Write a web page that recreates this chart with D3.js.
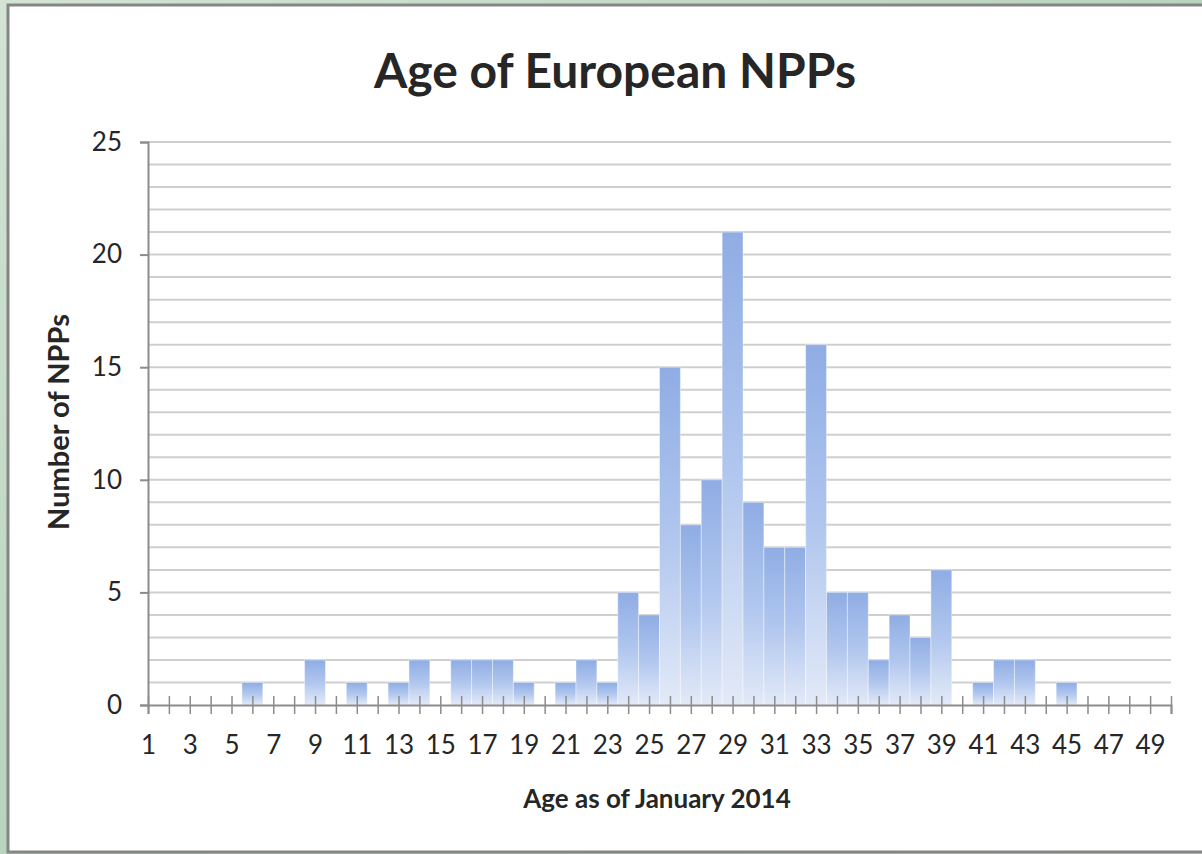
<!DOCTYPE html>
<html>
<head>
<meta charset="utf-8">
<script src="https://cdn.jsdelivr.net/npm/d3@7"></script>
<style>
  body { margin: 0; background: #c9ddcc; }
  svg { display: block; }
  text { font-family: Lato, "Open Sans", sans-serif; fill: #262626; }
</style>
</head>
<body>
<svg id="chart" width="1202" height="854"></svg>
<script>
// ages (years, as of Jan 2014) and number of plants of that age
const ages = [1, 2, 3, 4, 5, 6, 7, 8, 9, 10, 11, 12, 13, 14, 15, 16, 17, 18, 19, 20,
    21, 22, 23, 24, 25, 26, 27, 28, 29, 30, 31, 32, 33, 34, 35, 36, 37, 38, 39, 40,
    41, 42, 43, 44, 45, 46, 47, 48, 49];
const counts = [0, 0, 0, 0, 0, 1, 0, 0, 2, 0, 1, 0, 1, 2, 0, 2, 2, 2, 1, 0,
    1, 2, 1, 5, 4, 15, 8, 10, 21, 9, 7, 7, 16, 5, 5, 2, 4, 3, 6, 0,
    1, 2, 2, 0, 1, 0, 0, 0, 0];
const xTickLabels = [1, 3, 5, 7, 9, 11, 13, 15, 17, 19, 21, 23, 25, 27, 29, 31, 33,
    35, 37, 39, 41, 43, 45, 47, 49];
const yTickLabels = [0, 5, 10, 15, 20, 25];

const title = "Age of European NPPs";
const xTitle = "Age as of January 2014";
const yTitle = "Number of NPPs";

const data = ages.map((a, i) => ({ age: a, count: counts[i] }));

const svg = d3.select("#chart"),
    width = +svg.attr("width"),
    height = +svg.attr("height");

// green backdrop + white slide panel
const defs = svg.append("defs");
const bg = defs.append("linearGradient").attr("id", "bg")
    .attr("x1", 0).attr("y1", 0).attr("x2", 1).attr("y2", 1);
bg.append("stop").attr("offset", "0%").attr("stop-color", "#d3e4d5");
bg.append("stop").attr("offset", "50%").attr("stop-color", "#b9d3bd");
bg.append("stop").attr("offset", "100%").attr("stop-color", "#cfe1d1");
svg.append("rect").attr("width", width).attr("height", height).attr("fill", "url(#bg)");

svg.append("rect")
    .attr("x", 8).attr("y", 5)
    .attr("width", width + 10).attr("height", 847)
    .attr("fill", "#fff")
    .attr("stroke", "#858585")
    .attr("stroke-width", 3);

// per-bar gradient: blue on top fading to pale at the base
const barGrad = defs.append("linearGradient").attr("id", "barGrad")
    .attr("x1", 0).attr("y1", 0).attr("x2", 0).attr("y2", 1);
barGrad.append("stop").attr("offset", "0%").attr("stop-color", "#8fade4");
barGrad.append("stop").attr("offset", "50%").attr("stop-color", "#b0c6ee");
barGrad.append("stop").attr("offset", "100%").attr("stop-color", "#e3eaf8");

const x = d3.scaleLinear().domain([1, 50]).range([148, 1171]);
const y = d3.scaleLinear().domain([0, 25]).range([705, 142]);
const step = x(2) - x(1);

// minor gridlines every unit
svg.append("g")
    .selectAll("line")
    .data(d3.range(1, 26))
    .enter().append("line")
    .attr("x1", x(1)).attr("x2", x(50))
    .attr("y1", d => y(d)).attr("y2", d => y(d))
    .attr("stroke", "#cfcfcf")
    .attr("stroke-width", 2);

// bars
svg.append("g")
    .selectAll("rect")
    .data(data.filter(d => d.count > 0))
    .enter().append("rect")
    .attr("x", d => x(d.age) - step / 2)
    .attr("width", step)
    .attr("y", d => y(d.count))
    .attr("height", d => y(0) - y(d.count))
    .attr("fill", "url(#barGrad)")
    .attr("stroke", "rgba(255,255,255,0.4)")
    .attr("stroke-width", 1);

// y axis
const yAxis = svg.append("g")
    .attr("transform", `translate(${x(1)},0)`)
    .call(d3.axisLeft(y).tickValues(yTickLabels).tickSize(8).tickPadding(18));
yAxis.select(".domain").attr("stroke", "#8c8c8c").attr("stroke-width", 2);
yAxis.selectAll(".tick line").attr("stroke", "#8c8c8c").attr("stroke-width", 2);
yAxis.selectAll(".tick text").attr("font-size", 26).attr("fill", "#333");

// x axis: ticks crossing the axis at every age
const xAxis = svg.append("g")
    .attr("transform", `translate(0,${y(0)})`)
    .call(d3.axisBottom(x).tickValues(d3.range(1, 51)).tickSize(9)
        .tickFormat(d => xTickLabels.includes(d) ? d : ""));
xAxis.select(".domain").attr("stroke", "#8c8c8c").attr("stroke-width", 2);
xAxis.selectAll(".tick line").attr("y1", -9).attr("stroke", "#8c8c8c").attr("stroke-width", 1.5);
xAxis.selectAll(".tick text").attr("y", 31).attr("font-size", 26).attr("fill", "#333");

// titles
svg.append("text")
    .attr("x", 615).attr("y", 88)
    .attr("text-anchor", "middle")
    .attr("font-size", 48).attr("font-weight", "bold")
    .text(title);

svg.append("text")
    .attr("x", 657).attr("y", 808)
    .attr("text-anchor", "middle")
    .attr("font-size", 26).attr("font-weight", "bold")
    .text(xTitle);

svg.append("text")
    .attr("transform", "translate(69,422) rotate(-90)")
    .attr("text-anchor", "middle")
    .attr("font-size", 29).attr("font-weight", "bold")
    .text(yTitle);
</script>
</body>
</html>
